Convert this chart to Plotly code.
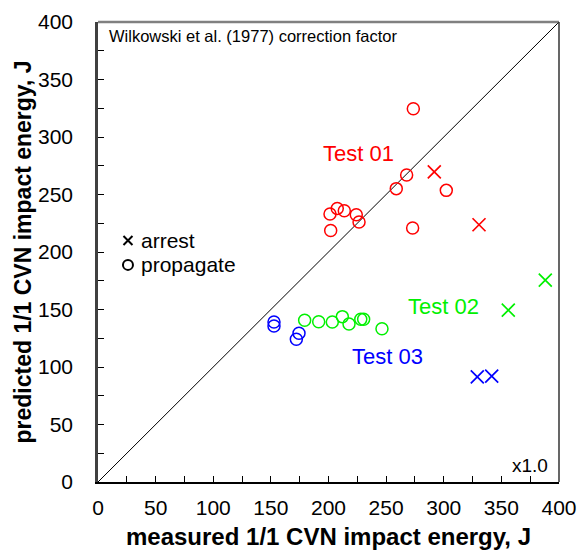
import plotly.graph_objects as go

# Test 01 (red)
t1_prop_x = [273.6, 267.8, 258.8, 302.2, 201.3, 207.6, 213.7, 224.1, 226.5, 201.9, 273.0]
t1_prop_y = [324.5, 267.0, 255.1, 253.6, 233.0, 237.9, 235.9, 232.4, 226.1, 218.7, 220.8]
t1_arr_x = [291.8, 330.6]
t1_arr_y = [269.6, 223.7]
# Test 02 (green)
t2_prop_x = [179.3, 191.5, 203.3, 212.0, 217.8, 228.0, 230.5, 246.4]
t2_prop_y = [140.6, 139.4, 139.2, 143.8, 137.4, 141.5, 141.5, 133.3]
t2_arr_x = [356.0, 388.1]
t2_arr_y = [149.4, 175.5]
# Test 03 (blue)
t3_prop_x = [152.7, 152.7, 174.4, 172.1]
t3_prop_y = [139.2, 135.7, 129.3, 124.1]
t3_arr_x = [329.1, 341.6]
t3_arr_y = [91.5, 92.1]

ticks = [0, 50, 100, 150, 200, 250, 300, 350, 400]

FONT = "Liberation Sans, Arial, sans-serif"
fig = go.Figure()

fig.add_trace(go.Scatter(x=[0, 400], y=[0, 400], mode="lines",
                         line=dict(color="black", width=1), showlegend=False, hoverinfo="skip"))

def add(xs, ys, color, sym, size, width):
    fig.add_trace(go.Scatter(x=xs, y=ys, mode="markers", showlegend=False,
                             marker=dict(symbol=sym, size=size, color=color,
                                         line=dict(color=color, width=width))))

add(t1_prop_x, t1_prop_y, "#ff0000", "circle-open", 12, 1.5)
add(t1_arr_x, t1_arr_y, "#ff0000", "x-thin-open", 13, 1.7)
add(t2_prop_x, t2_prop_y, "#00f000", "circle-open", 12, 1.5)
add(t2_arr_x, t2_arr_y, "#00f000", "x-thin-open", 13, 1.7)
add(t3_prop_x, t3_prop_y, "#0000ff", "circle-open", 12, 1.5)
add(t3_arr_x, t3_arr_y, "#0000ff", "x-thin-open", 13, 1.7)

# legend symbols
add([26], [210], "black", "x-thin-open", 9, 2)
add([26], [188.8], "black", "circle-open", 10, 2)

annots = [
    dict(x=226, y=286, text="Test 01", color="#ff0000", size=22, xanchor="center"),
    dict(x=299.6, y=152.5, text="Test 02", color="#00f000", size=22, xanchor="center"),
    dict(x=251, y=109, text="Test 03", color="#0000ff", size=22, xanchor="center"),
    dict(x=36.4, y=210, text="arrest", color="black", size=21, xanchor="left"),
    dict(x=36.4, y=188.8, text="propagate", color="black", size=21, xanchor="left"),
    dict(x=8.7, y=387.5, text="Wilkowski et al. (1977) correction factor", color="black", size=16.5, xanchor="left"),
    dict(x=391.3, y=14.6, text="x1.0", color="black", size=19, xanchor="right"),
]
for a in annots:
    fig.add_annotation(x=a["x"], y=a["y"], text=a["text"], showarrow=False,
                       xanchor=a["xanchor"], yanchor="middle", borderpad=0,
                       font=dict(family=FONT, size=a["size"], color=a["color"]))

# frame top/right
fig.add_shape(type="line", xref="paper", yref="paper", x0=0, x1=1, y0=1, y1=1,
              line=dict(color="#808080", width=2.5))
fig.add_shape(type="line", xref="paper", yref="paper", x0=1, x1=1, y0=0, y1=1,
              line=dict(color="black", width=1.2))

axis_common = dict(range=[0, 400], tickvals=ticks, ticks="inside", ticklen=6, tickwidth=1,
                   tickcolor="black", showgrid=False, zeroline=False, showline=True,
                   tickfont=dict(family=FONT, size=21, color="black"), automargin=False,
                   minor=dict(tickvals=[25, 75, 125, 175, 225, 275, 325, 375], ticks="inside",
                              ticklen=6, tickwidth=1, tickcolor="black", showgrid=False),
                   fixedrange=True)

fig.update_xaxes(**axis_common, linecolor="black", linewidth=1.5, ticklabelstandoff=6,
                 title=dict(text="<b>measured 1/1 CVN impact energy, J</b>", standoff=10,
                            font=dict(family=FONT, size=24, color="black")))
fig.update_yaxes(**axis_common, linecolor="#404040", linewidth=2.5, ticklabelstandoff=18,
                 title=dict(text="<b>predicted 1/1 CVN impact energy, J</b>", standoff=0,
                            font=dict(family=FONT, size=23, color="black")))

fig.update_layout(width=579, height=553, margin=dict(l=98, r=20, t=22, b=71, autoexpand=False),
                  plot_bgcolor="white", paper_bgcolor="white", showlegend=False)

fig.write_html("out.html")
